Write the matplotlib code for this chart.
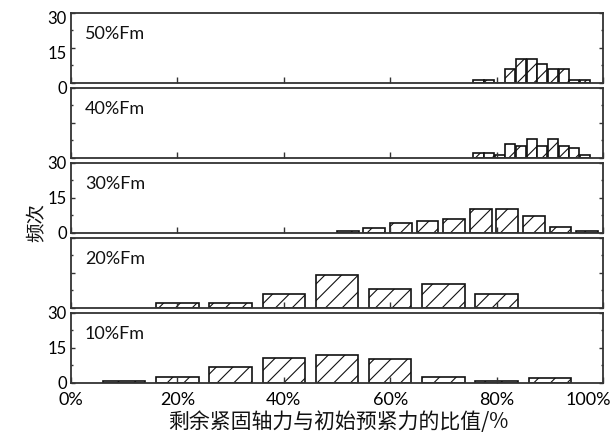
import numpy as np
import matplotlib
matplotlib.use('Agg')
import matplotlib.pyplot as plt
from matplotlib.transforms import ScaledTranslation

plt.rcParams['font.family'] = ['Lato', 'DejaVu Sans']
plt.rcParams['hatch.linewidth'] = 0.8
plt.rcParams['hatch.color'] = '#222222'

# panel labels, top to bottom
labels = ['50%Fm', '40%Fm', '30%Fm', '20%Fm', '10%Fm']

# bin centres (%) and frequencies
bins_50 = [76.6, 78.6, 80.6, 82.6, 84.6, 86.6, 88.6, 90.6, 92.6, 94.6, 96.6]
counts_50 = [1, 1, 0, 6, 10, 10, 8, 6, 6, 1, 1]

bins_40 = [76.6, 78.6, 80.6, 82.6, 84.6, 86.6, 88.6, 90.6, 92.6, 94.6, 96.6]
counts_40 = [2, 2, 1, 6, 5, 8, 5, 8, 5, 4, 1]

bins_30 = [52, 57, 62, 67, 72, 77, 82, 87, 92, 97]
counts_30 = [0.6, 2, 4, 5, 6, 10, 10, 7, 2.5, 0.6]

bins_20 = [20, 30, 40, 50, 60, 70, 80]
counts_20 = [2, 2, 6, 14, 8, 10, 6]

bins_10 = [10, 20, 30, 40, 50, 60, 70, 80, 90]
counts_10 = [0.6, 2.5, 6.6, 10.6, 11.9, 10, 2.6, 0.6, 2]

xticks = [0, 20, 40, 60, 80, 100]
xtick_labels = ['0%', '20%', '40%', '60%', '80%', '100%']
yticks = [0, 15, 30]

panels = [(bins_50, counts_50, 1.9), (bins_40, counts_40, 1.9),
          (bins_30, counts_30, 4.1), (bins_20, counts_20, 8.0),
          (bins_10, counts_10, 8.0)]
show_ylabels = [True, False, True, False, True]

W, H = 612, 434
fig = plt.figure(figsize=(W / 100, H / 100), dpi=100)

left, right = 71, 603
tops = [12.7, 87.7, 162.7, 237.7, 312.7]
ph = 70

for i, (bx, cnt, w) in enumerate(panels):
    ax = fig.add_axes([left / W, 1 - (tops[i] + ph) / H, (right - left) / W, ph / H])
    ax.bar(bx, cnt, width=w, facecolor='white', edgecolor='#111111',
           linewidth=1.2, hatch='//')
    ax.set_xlim(0, 100)
    ax.set_ylim(0, 30)
    for s in ax.spines.values():
        s.set_color('#333333')
        s.set_linewidth(1.3)
    ax.set_xticks(xticks)
    ax.set_yticks(yticks)
    ax.set_yticks([7.5, 22.5], minor=True)
    ax.tick_params(axis='both', which='both', direction='in', right=True,
                   top=False, color='#333333', width=1.0)
    ax.tick_params(axis='x', which='major', length=4, pad=6.5, labelsize=13)
    ax.tick_params(axis='y', which='major', length=3, pad=3, labelsize=12)
    ax.tick_params(axis='y', which='minor', length=1.7)
    ax.text(0.026, 0.70, labels[i], transform=ax.transAxes, fontsize=13,
            ha='left', va='center', color='#111111')
    if show_ylabels[i]:
        ax.set_yticklabels([str(t) for t in yticks])
        if i == 0:
            # top panel labels sit a little low in the original
            for lab in ax.get_yticklabels():
                lab.set_transform(lab.get_transform() +
                                  ScaledTranslation(0, -0.05, fig.dpi_scale_trans))
    else:
        ax.tick_params(axis='y', labelleft=False)
    if i == 4:
        ax.set_xticklabels(xtick_labels)
        last = ax.get_xticklabels()[-1]
        last.set_ha('right')
        last.set_transform(last.get_transform() +
                           ScaledTranslation(0.08, 0, fig.dpi_scale_trans))
    else:
        ax.tick_params(axis='x', labelbottom=False)

cjk = ['Noto Sans CJK SC', 'DejaVu Sans']
fig.text(36 / W, 1 - 222 / H, '频次', rotation=90, fontsize=14, family=cjk,
         ha='center', va='center', color='#111111')
fig.text(338 / W, 1 - 422 / H, '剩余紧固轴力与初始预紧力的比值/%', fontsize=15,
         family=cjk, ha='center', va='center', color='#111111')

fig.savefig('out.png', dpi=100)
